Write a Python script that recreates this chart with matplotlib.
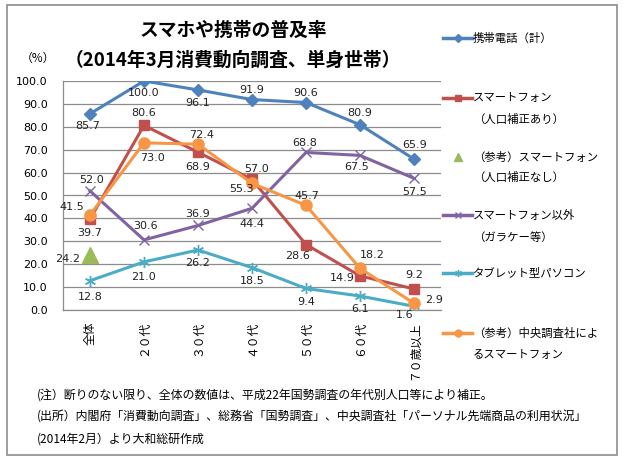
import matplotlib
matplotlib.use("Agg")
import matplotlib.pyplot as plt
from matplotlib.lines import Line2D
from matplotlib.patches import Rectangle

plt.rcParams['font.family'] = ['Noto Sans CJK JP', 'DejaVu Sans']

categories = ["全体", "２０代", "３０代", "４０代", "５０代", "６０代", "７０歳以上"]
keitai = [85.7, 100.0, 96.1, 91.9, 90.6, 80.9, 65.9]
smart = [39.7, 80.6, 68.9, 57.0, 28.6, 14.9, 9.2]
smart_raw = [24.2]
other = [52.0, 30.6, 36.9, 44.4, 68.8, 67.5, 57.5]
tablet = [12.8, 21.0, 26.2, 18.5, 9.4, 6.1, 1.6]
chuo = [41.5, 73.0, 72.4, 55.3, 45.7, 18.2, 2.9]
yticks = [0, 10, 20, 30, 40, 50, 60, 70, 80, 90, 100]

C_BLUE = "#4F81BD"; C_RED = "#C0504D"; C_GREEN = "#9BBB59"
C_PURPLE = "#8064A2"; C_TEAL = "#4BACC6"; C_ORANGE = "#F79646"

W, H = 626, 462
fig = plt.figure(figsize=(W / 100, H / 100), dpi=100)

def fx(px):
    return px / W

def fy(py):
    return 1 - py / H

ax = fig.add_axes([fx(63), fy(310), fx(441) - fx(63), fy(81) - fy(310)])
x = list(range(len(categories)))
ax.set_xlim(-0.5, len(categories) - 0.5)
ax.set_ylim(0, 100)

lw = 2.2
ax.plot(x, keitai, color=C_BLUE, lw=lw, marker='D', ms=6.5, zorder=3)
ax.plot(x, smart, color=C_RED, lw=lw, marker='s', ms=7.5, zorder=3)
ax.plot(x[:1], smart_raw, color=C_GREEN, lw=0, marker='^', ms=11, zorder=3)
ax.plot(x, other, color=C_PURPLE, lw=lw, marker='x', ms=7, mew=1, zorder=3)
ax.plot(x, tablet, color=C_TEAL, lw=lw, marker=(6, 2, 0), ms=8, mew=1, zorder=3)
ax.plot(x, chuo, color=C_ORANGE, lw=lw, marker='o', ms=8, zorder=4)

def lab(xs, ys, offs, ha_list=None):
    for i, (xx, yy) in enumerate(zip(xs, ys)):
        dx, dy = offs[i]
        ha = 'center' if ha_list is None else ha_list[i]
        ax.annotate(f"{yy:.1f}", (xx, yy), xytext=(dx, dy), textcoords='offset pixels',
                    ha=ha, va='center', fontsize=8, color='#222222',
                    family=['DejaVu Sans'], zorder=6)

lab(x, keitai, [(-2, -12), (0, -12), (0, -13), (0, 10), (0, 10), (0, 12), (1, 14)])
lab(x, smart, [(0, -14), (0, 12), (0, -15), (5, 10), (-8, -11), (-5, -2), (0, 14)],
    ['center', 'center', 'center', 'center', 'center', 'right', 'center'])
lab(x[:1], smart_raw, [(-10, -4)], ['right'])
lab(x, other, [(2, 11), (2, 14), (0, 11), (0, -16), (-1, 9), (-3, -12), (1, -14)])
lab(x, tablet, [(0, -16), (0, -15), (0, -13), (0, -13), (0, -14), (0, -13), (-9, -9)])
lab(x, chuo, [(-18, 8), (8, -15), (4, 9), (-10, -6), (1, 9), (12, 13), (11, 3)],
    ['center', 'center', 'center', 'center', 'center', 'center', 'left'])

ax.set_yticks(yticks)
ax.set_yticklabels([f"{v:.1f}" for v in yticks], fontsize=8, family=['DejaVu Sans'])
ax.set_xticks(x)
ax.set_xticklabels(categories, rotation=90, fontsize=8.5, va='top', ha='center')
ax.tick_params(axis='y', length=0, pad=11)
ax.tick_params(axis='x', length=0, pad=8)
ax.grid(axis='y', color='#8c8c8c', lw=0.9)
ax.set_axisbelow(True)
for s in ['top', 'right']:
    ax.spines[s].set_visible(False)
for s in ['left', 'bottom']:
    ax.spines[s].set_color('#8c8c8c')
    ax.spines[s].set_linewidth(0.9)

# Titles
fig.text(fx(233), fy(30), "スマホや携帯の普及率", ha='center', va='center',
         fontsize=13.5, fontweight='bold')
fig.text(fx(233), fy(60), "（2014年3月消費動向調査、単身世帯）", ha='center', va='center',
         fontsize=13.5, fontweight='bold')
fig.text(fx(38), fy(58), "（%）", ha='center', va='center', fontsize=8.5)

# Legend (manual)
def handle(py, color, marker, ms, mew=1, line=True):
    if line:
        fig.add_artist(Line2D([fx(443), fx(472)], [fy(py), fy(py)], color=color, lw=2.5))
        fig.add_artist(Line2D([fx(457.5)], [fy(py)], color=color, marker=marker, ms=ms,
                              mew=mew, lw=0))
    else:
        fig.add_artist(Line2D([fx(458)], [fy(py)], color=color, marker=marker, ms=ms, lw=0))

def ltext(py, s):
    fig.text(fx(473), fy(py), s, ha='left', va='center', fontsize=8.2)

handle(38, C_BLUE, 'D', 4)
ltext(38, "携帯電話（計）")
handle(98, C_RED, 's', 5)
ltext(98, "スマートフォン")
ltext(119, "（人口補正あり）")
handle(157, C_GREEN, '^', 6, line=False)
ltext(157, "（参考）スマートフォン")
ltext(177, "（人口補正なし）")
handle(215, C_PURPLE, 'x', 4)
ltext(215, "スマートフォン以外")
ltext(237, "（ガラケー等）")
handle(273, C_TEAL, (6, 2, 0), 5)
ltext(273, "タブレット型パソコン")
handle(333, C_ORANGE, 'o', 5)
ltext(333, "（参考）中央調査社によ")
ltext(355, "るスマートフォン")

# Notes
notes = [
    "(注）断りのない限り、全体の数値は、平成22年国勢調査の年代別人口等により補正。",
    "(出所）内閣府「消費動向調査」、総務省「国勢調査」、中央調査社「パーソナル先端商品の利用状況」",
    "(2014年2月）より大和総研作成",
]
for i, n in enumerate(notes):
    fig.text(fx(37), fy(395 + 22 * i), n, ha='left', va='center', fontsize=8.6)

# Outer border
fig.add_artist(Rectangle((fx(7), fy(455)), fx(617) - fx(7), fy(5) - fy(455),
                         fill=False, edgecolor='#8c8c8c', lw=1.2, transform=fig.transFigure))

fig.savefig("out.png", dpi=100)
